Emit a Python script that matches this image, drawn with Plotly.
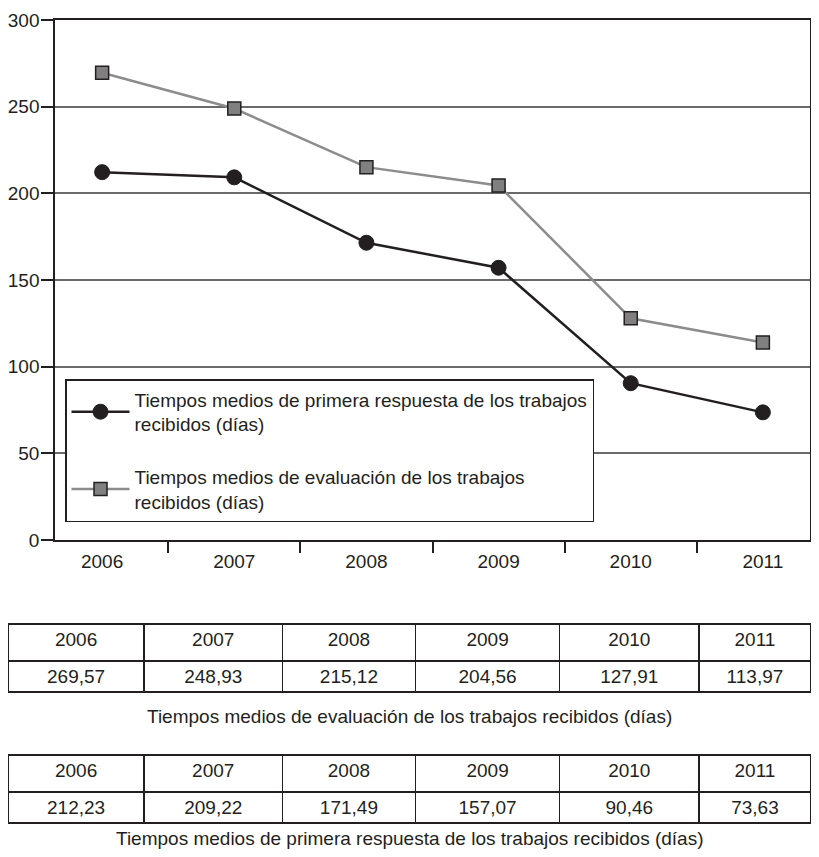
import plotly.graph_objects as go

years = ["2006", "2007", "2008", "2009", "2010", "2011"]
evaluacion = [269.57, 248.93, 215.12, 204.56, 127.91, 113.97]
primera = [212.23, 209.22, 171.49, 157.07, 90.46, 73.63]
evaluacion_txt = ["269,57", "248,93", "215,12", "204,56", "127,91", "113,97"]
primera_txt = ["212,23", "209,22", "171,49", "157,07", "90,46", "73,63"]
y_ticks = [0, 50, 100, 150, 200, 250, 300]

name_primera = "Tiempos medios de primera respuesta de los trabajos<br>recibidos (días)"
name_eval = "Tiempos medios de evaluación de los trabajos<br>recibidos (días)"
caption_eval = "Tiempos medios de evaluación de los trabajos recibidos (días)"
caption_primera = "Tiempos medios de primera respuesta de los trabajos recibidos (días)"

FONT = "Liberation Sans, Arial, sans-serif"
FS = 19
INK = "#231f20"
# The page body has an 8px margin, so the figure is sized to fit inside the
# 819x857 window without scrollbars; screen position = figure position + 8.
OFF = 8
W, H = 819 - 2 * OFF, 857 - 2 * OFF

def px(sx):
    return (sx - OFF) / W

def py(sy):
    return 1 - (sy - OFF) / H

fig = go.Figure()

fig.add_trace(go.Scatter(
    x=years, y=primera, name=name_primera, mode="lines+markers",
    legendgroup="a",
    line=dict(color=INK, width=2.5),
    marker=dict(symbol="circle", size=15, color=INK, line=dict(color=INK, width=1)),
))
fig.add_trace(go.Scatter(
    x=years, y=evaluacion, name=name_eval, mode="lines+markers",
    legendgroup="b",
    line=dict(color="#8c8c8c", width=2.5),
    marker=dict(symbol="square", size=13, color="#808080", line=dict(color=INK, width=1.5)),
))

col_w = [136, 138, 133, 144, 139, 112]

def table(vals, top, bottom):
    return go.Table(
        domain=dict(x=[0, 1], y=[py(bottom), py(top)]),
        columnwidth=col_w,
        header=dict(values=years, height=37, align="center",
                    fill=dict(color="white"), line=dict(color=INK, width=1.5),
                    font=dict(family=FONT, size=FS, color=INK)),
        cells=dict(values=[[v] for v in vals], height=31, align="center",
                   fill=dict(color="white"), line=dict(color=INK, width=1.5),
                   font=dict(family=FONT, size=FS, color=INK)),
    )

fig.add_trace(table(evaluacion_txt, 624, 745))
fig.add_trace(table(primera_txt, 755, 849))

fig.update_layout(
    template="none",
    width=W, height=H,
    margin=dict(l=0, r=0, t=0, b=0, autoexpand=False),
    paper_bgcolor="white", plot_bgcolor="white",
    font=dict(family=FONT, size=FS, color=INK),
    showlegend=True,
    legend=dict(
        x=px(65), y=py(379), xanchor="left", yanchor="top",
        bgcolor="white", bordercolor=INK, borderwidth=1.5,
        font=dict(family=FONT, size=FS, color=INK),
        tracegroupgap=25, itemwidth=58, traceorder="grouped",
    ),
    xaxis=dict(
        domain=[px(55), px(810)], type="category", automargin=False,
        showline=True, linecolor=INK, linewidth=1.5, mirror=True,
        ticks="outside", tickson="boundaries", ticklen=11, tickwidth=1.5, tickcolor=INK,
        ticklabelstandoff=3,
        showgrid=False, tickfont=dict(family=FONT, size=FS, color=INK),
        fixedrange=True,
    ),
    yaxis=dict(
        domain=[py(540), py(20)], range=[0, 300], tickvals=y_ticks, automargin=False,
        showline=True, linecolor=INK, linewidth=1.5, mirror=True,
        ticks="outside", ticklen=12, tickwidth=1.5, tickcolor=INK,
        ticklabelstandoff=-2,
        showgrid=True, gridcolor="#6a6a6a", gridwidth=1.5,
        zeroline=False, tickfont=dict(family=FONT, size=FS, color=INK),
        fixedrange=True,
    ),
    annotations=[
        dict(text=caption_eval, x=0.5, y=py(716), xref="paper", yref="paper",
             showarrow=False, xanchor="center", yanchor="middle",
             font=dict(family=FONT, size=FS, color=INK)),
        dict(text=caption_primera, x=0.5, y=py(838), xref="paper", yref="paper",
             showarrow=False, xanchor="center", yanchor="middle",
             font=dict(family=FONT, size=FS, color=INK)),
    ],
)

fig.write_html("out.html")
